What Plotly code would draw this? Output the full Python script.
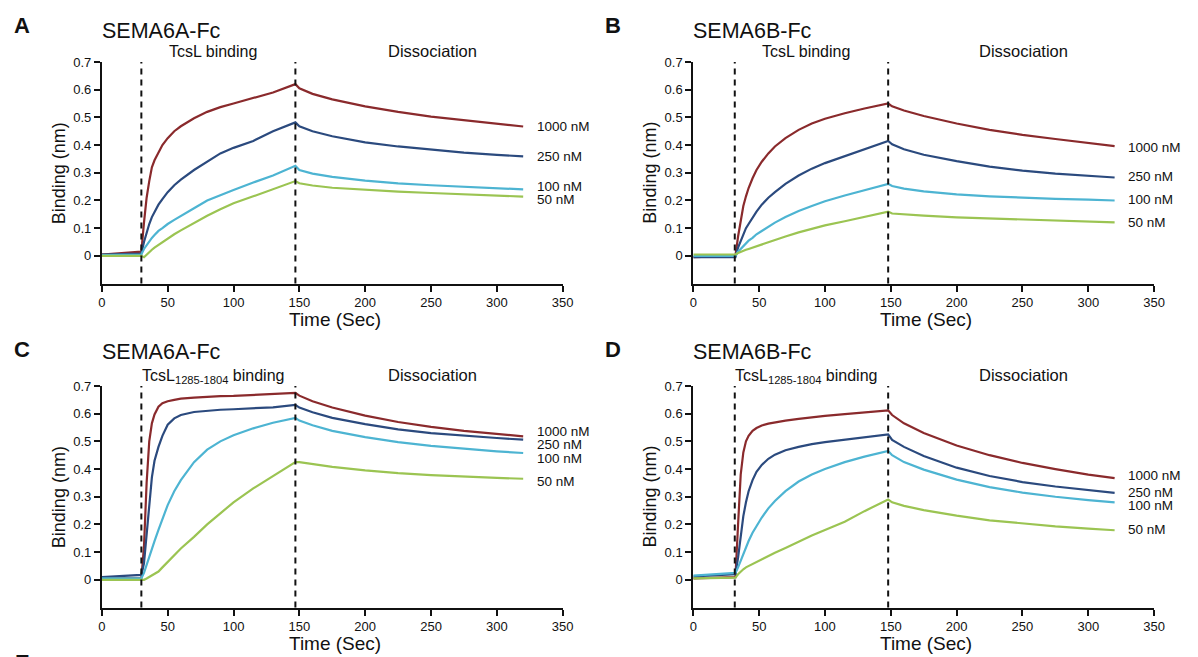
import plotly.graph_objects as go

# ---------------- data ----------------
t_AC = [0, 30, 32, 34, 36, 38, 40, 43, 46, 50, 55, 60, 70, 80, 90, 100, 115, 130, 147,
        150, 160, 175, 200, 225, 250, 275, 300, 320]
t_BD = [0, 32, 34, 36, 38, 40, 42, 45, 48, 52, 57, 62, 70, 80, 90, 100, 115, 130, 148,
        151, 160, 175, 200, 225, 250, 275, 300, 320]

A_1000 = [0.005, 0.015, 0.12, 0.21, 0.27, 0.32, 0.345, 0.375, 0.40, 0.425, 0.45, 0.468, 0.497, 0.52,
          0.537, 0.55, 0.57, 0.59, 0.62, 0.605, 0.585, 0.565, 0.54, 0.52, 0.503, 0.49, 0.477, 0.467]
A_250 = [0.005, 0.008, 0.05, 0.085, 0.115, 0.14, 0.16, 0.185, 0.205, 0.23, 0.255, 0.275, 0.31, 0.34,
         0.37, 0.39, 0.415, 0.45, 0.482, 0.468, 0.45, 0.432, 0.41, 0.395, 0.383, 0.373, 0.365, 0.359]
A_100 = [0.003, 0.005, 0.025, 0.04, 0.055, 0.065, 0.075, 0.09, 0.10, 0.115, 0.13, 0.145, 0.172, 0.20,
         0.22, 0.238, 0.265, 0.29, 0.325, 0.31, 0.297, 0.285, 0.272, 0.262, 0.255, 0.249, 0.244, 0.24]
A_50 = [0.0, 0.0, -0.005, 0.005, 0.015, 0.022, 0.03, 0.04, 0.05, 0.062, 0.078, 0.092, 0.12, 0.145,
        0.168, 0.19, 0.215, 0.24, 0.27, 0.262, 0.254, 0.246, 0.238, 0.232, 0.227, 0.222, 0.218, 0.214]

B_1000 = [-0.005, 0.0, 0.07, 0.13, 0.18, 0.215, 0.245, 0.28, 0.31, 0.34, 0.37, 0.395, 0.425, 0.455,
          0.478, 0.495, 0.515, 0.532, 0.55, 0.54, 0.525, 0.505, 0.478, 0.455, 0.437, 0.422, 0.407, 0.396]
B_250 = [-0.005, -0.005, 0.03, 0.055, 0.08, 0.10, 0.115, 0.14, 0.16, 0.185, 0.21, 0.23, 0.26, 0.29,
         0.315, 0.335, 0.36, 0.385, 0.415, 0.403, 0.385, 0.365, 0.342, 0.322, 0.308, 0.297, 0.288, 0.283]
B_100 = [0.0, 0.0, 0.015, 0.025, 0.035, 0.045, 0.055, 0.065, 0.078, 0.09, 0.105, 0.12, 0.14, 0.162,
         0.18, 0.197, 0.218, 0.237, 0.26, 0.252, 0.243, 0.233, 0.222, 0.215, 0.21, 0.206, 0.203, 0.20]
B_50 = [0.005, 0.005, 0.01, 0.015, 0.018, 0.022, 0.025, 0.03, 0.035, 0.042, 0.05, 0.058, 0.07, 0.085,
        0.098, 0.11, 0.125, 0.14, 0.16, 0.153, 0.149, 0.145, 0.139, 0.135, 0.131, 0.127, 0.124, 0.121]

C_1000 = [0.005, 0.005, 0.12, 0.35, 0.50, 0.565, 0.597, 0.625, 0.638, 0.645, 0.65, 0.654, 0.658, 0.661,
          0.663, 0.664, 0.667, 0.67, 0.675, 0.665, 0.645, 0.622, 0.593, 0.57, 0.552, 0.538, 0.527, 0.518]
C_250 = [0.01, 0.018, 0.06, 0.16, 0.28, 0.37, 0.43, 0.48, 0.52, 0.56, 0.583, 0.595, 0.606, 0.611,
         0.614, 0.616, 0.619, 0.623, 0.632, 0.622, 0.605, 0.585, 0.562, 0.543, 0.53, 0.52, 0.512, 0.506]
C_100 = [0.005, 0.005, 0.025, 0.055, 0.085, 0.115, 0.14, 0.18, 0.22, 0.27, 0.32, 0.36, 0.425, 0.47,
         0.50, 0.522, 0.547, 0.567, 0.585, 0.575, 0.558, 0.538, 0.515, 0.497, 0.484, 0.473, 0.464, 0.458]
C_50 = [0.0, 0.0, 0.0, 0.005, 0.01, 0.015, 0.02, 0.03, 0.045, 0.065, 0.09, 0.113, 0.155, 0.20,
        0.24, 0.28, 0.33, 0.375, 0.425, 0.425, 0.418, 0.408, 0.395, 0.385, 0.378, 0.372, 0.368, 0.365]

D_1000 = [0.005, 0.01, 0.20, 0.38, 0.46, 0.50, 0.52, 0.538, 0.548, 0.557, 0.564, 0.569, 0.575, 0.581,
          0.587, 0.592, 0.598, 0.605, 0.612, 0.595, 0.565, 0.53, 0.485, 0.45, 0.422, 0.40, 0.38, 0.367]
D_250 = [0.012, 0.02, 0.08, 0.16, 0.23, 0.28, 0.32, 0.36, 0.39, 0.415, 0.437, 0.452, 0.468, 0.48,
         0.49, 0.497, 0.506, 0.515, 0.525, 0.505, 0.48, 0.447, 0.405, 0.375, 0.353, 0.337, 0.323, 0.314]
D_100 = [0.015, 0.025, 0.045, 0.07, 0.095, 0.12, 0.14, 0.17, 0.195, 0.225, 0.258, 0.285, 0.32, 0.355,
         0.38, 0.40, 0.425, 0.445, 0.465, 0.45, 0.425, 0.398, 0.362, 0.335, 0.315, 0.30, 0.288, 0.28]
D_50 = [0.005, 0.008, 0.02, 0.03, 0.038, 0.045, 0.05, 0.058, 0.066, 0.075, 0.087, 0.098, 0.115, 0.138,
        0.16, 0.18, 0.21, 0.248, 0.29, 0.28, 0.267, 0.252, 0.232, 0.215, 0.203, 0.193, 0.185, 0.179]

concentrations = ["1000 nM", "250 nM", "100 nM", "50 nM"]
panel_letters = ["A", "B", "C", "D"]
panel_titles = ["SEMA6A-Fc", "SEMA6B-Fc", "SEMA6A-Fc", "SEMA6B-Fc"]
binding_labels = ["TcsL binding", "TcsL binding",
                  "TcsL<sub>1285-1804</sub> binding", "TcsL<sub>1285-1804</sub> binding"]
injection_times = [[30, 147], [31.5, 148], [30, 147], [31.5, 148]]
x_ticks = [0, 50, 100, 150, 200, 250, 300, 350]
y_ticks = [0, 0.1, 0.2, 0.3, 0.4, 0.5, 0.6, 0.7]
y_ticklabels = ["0", "0.1", "0.2", "0.3", "0.4", "0.5", "0.6", "0.7"]
x_title = "Time (Sec)"
y_title = "Binding (nm)"

# ---------------- layout helpers ----------------
# The page body has an 8px default margin, so the figure is drawn 8px smaller
# and all page-pixel positions are shifted by that offset.
OFF = 8
W, H = 1198 - OFF, 657 - OFF
FONT = "Liberation Sans, Arial, Helvetica, sans-serif"
INK = "#111111"
colors = ["#8a2a2c", "#2b4a7e", "#4db4d2", "#9bc452"]

def px(x):
    return (x - OFF) / W

def py(y):
    return 1 - (y - OFF) / H

panels = [
    dict(t=t_AC, ys=[A_1000, A_250, A_100, A_50], x0=99, y0=55.5),
    dict(t=t_BD, ys=[B_1000, B_250, B_100, B_50], x0=698, y0=55.5),
    dict(t=t_AC, ys=[C_1000, C_250, C_100, C_50], x0=99, y0=383),
    dict(t=t_BD, ys=[D_1000, D_250, D_100, D_50], x0=698, y0=383),
]
PW, PH = 466.7, 224.0
label_y = [[0.466, 0.359, 0.252, 0.205],
           [0.392, 0.285, 0.202, 0.12],
           [0.537, 0.488, 0.439, 0.355],
           [0.376, 0.316, 0.269, 0.183]]

fig = go.Figure()
annotations = []
shapes = []
layout_axes = {}

def ann(text, x, y, size, xref="paper", yref="paper", xanchor="center", yanchor="middle", **kw):
    d = dict(text=text, x=x, y=y, xref=xref, yref=yref, xanchor=xanchor, yanchor=yanchor,
             showarrow=False, font=dict(family=FONT, size=size, color=INK))
    d.update(kw)
    annotations.append(d)

for i, p in enumerate(panels):
    n = i + 1
    xa = "x" if n == 1 else f"x{n}"
    ya = "y" if n == 1 else f"y{n}"
    for k, ys in enumerate(p["ys"]):
        fig.add_trace(go.Scatter(x=p["t"], y=ys, mode="lines", xaxis=xa, yaxis=ya,
                                 line=dict(color=colors[k], width=2.2), showlegend=False,
                                 name=concentrations[k], hoverinfo="skip"))
    axis_common = dict(showline=True, linecolor=INK, linewidth=2, ticks="outside",
                       ticklen=6, tickwidth=2, tickcolor=INK, showgrid=False, zeroline=False,
                       tickfont=dict(family=FONT, size=13, color=INK))
    layout_axes["xaxis" if n == 1 else f"xaxis{n}"] = dict(
        axis_common, domain=[px(p["x0"]), px(p["x0"] + PW)], range=[0, 350],
        tickvals=x_ticks, anchor=ya)
    layout_axes["yaxis" if n == 1 else f"yaxis{n}"] = dict(
        axis_common, domain=[py(p["y0"] + PH), py(p["y0"])], range=[-0.1, 0.7],
        tickvals=y_ticks, ticktext=y_ticklabels, anchor=xa)
    for tv in injection_times[i]:
        shapes.append(dict(type="line", xref=xa, yref=f"{ya} domain", x0=tv, x1=tv, y0=0, y1=1,
                           line=dict(color=INK, width=2, dash="6px,5px")))
    # axis titles
    ann(x_title, px(p["x0"] + 236), py(p["y0"] + 260), 19)
    ann(y_title, px(p["x0"] - 44), py(p["y0"] + 112), 18, textangle=-90)
    # concentration labels
    for k, c in enumerate(concentrations):
        ann(c, 329, label_y[i][k], 13.5, xref=xa, yref=ya, xanchor="left")
    # panel letter, title, phase labels (bottom row labels carry a subscript,
    # so they sit a little tighter)
    sub_row = i >= 2
    title_dy = -34 if sub_row else -31
    phase_dy = -9.5 if sub_row else -11
    ann(f"<b>{panel_letters[i]}</b>", px(p["x0"] - 81), py(p["y0"] - 37), 22)
    ann(panel_titles[i], px(p["x0"] - 2), py(p["y0"] + title_dy), 21.5, xanchor="left")
    ann(binding_labels[i], (injection_times[i][0] + injection_times[i][1]) / 2 - 4,
        py(p["y0"] + phase_dy), 16, xref=xa)
    ann("Dissociation", 251, py(p["y0"] - 11), 16.5, xref=xa)

ann("<b>E</b>", px(19), py(653), 22, yanchor="top", yshift=5)

fig.update_layout(width=W, height=H, margin=dict(l=0, r=0, t=0, b=0), autosize=False,
                  paper_bgcolor="white", plot_bgcolor="white", annotations=annotations,
                  shapes=shapes, **layout_axes)

fig.write_html("out.html")
